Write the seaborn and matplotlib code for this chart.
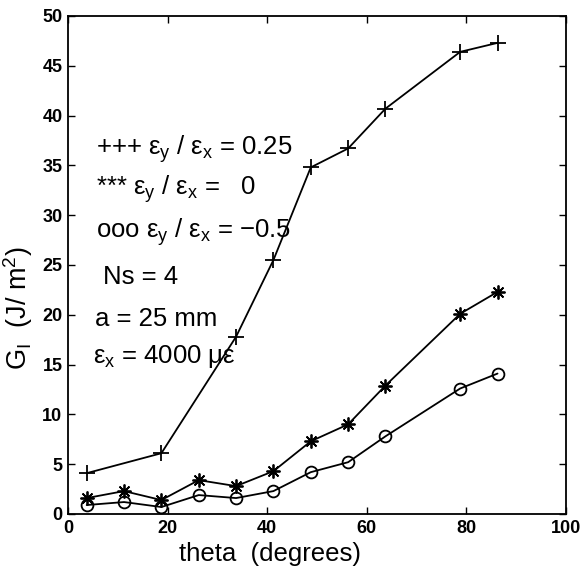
import matplotlib
matplotlib.use("Agg")
import matplotlib.pyplot as plt
import seaborn as sns
import pandas as pd

# theta (degrees) and G_I (J/m^2) for the three strain ratios
theta_plus = [3.75, 18.75, 33.75, 41.25, 48.75, 56.25, 63.75, 78.75, 86.25]
g_plus = [4.1, 6.1, 17.8, 25.5, 34.8, 36.7, 40.7, 46.4, 47.3]

theta_all = [3.75, 11.25, 18.75, 26.25, 33.75, 41.25, 48.75, 56.25, 63.75, 78.75, 86.25]
g_star = [1.6, 2.3, 1.4, 3.4, 2.8, 4.3, 7.3, 9.0, 12.9, 20.1, 22.3]
g_circ = [0.9, 1.2, 0.7, 1.9, 1.6, 2.3, 4.2, 5.2, 7.8, 12.6, 14.1]

sns.set_style("ticks")
plt.rcParams['font.family'] = ['Liberation Sans', 'DejaVu Sans']
plt.rcParams['mathtext.fontset'] = 'custom'
plt.rcParams['mathtext.rm'] = 'Liberation Sans'
plt.rcParams['mathtext.it'] = 'Liberation Sans'
for k in ['text.color', 'axes.labelcolor', 'xtick.color', 'ytick.color', 'axes.edgecolor']:
    plt.rcParams[k] = 'black'

fig = plt.figure(figsize=(5.81, 5.67), dpi=100)
ax = fig.add_axes([68 / 581, 1 - 514 / 567, (566 - 68) / 581, (514 - 16) / 567])

plus = pd.DataFrame({'theta': theta_plus, 'G': g_plus})
star = pd.DataFrame({'theta': theta_all, 'G': g_star})
circ = pd.DataFrame({'theta': theta_all, 'G': g_circ})

common = dict(ax=ax, x='theta', y='G', color='black', lw=1.3, mec='black', sort=False)
sns.lineplot(data=plus, marker='+', markersize=12, mew=1.3, **common)
sns.lineplot(data=star, marker=(8, 2, 0), markersize=10, mew=1.3, **common)
sns.lineplot(data=circ, marker='o', markersize=8.5, mew=1.3, fillstyle='none', **common)

ax.set_xlim(0, 100)
ax.set_ylim(0, 50)
ax.set_xticks([0, 20, 40, 60, 80, 100])
ax.set_yticks(range(0, 51, 5))
ax.tick_params(direction='in', top=True, right=True, length=5, width=1,
               labelsize=13, pad=4)
for lab in ax.get_xticklabels() + ax.get_yticklabels():
    lab.set_fontweight('bold')
for s in ax.spines.values():
    s.set_linewidth(1.3)
    s.set_visible(True)

ax.set_xlabel('theta  (degrees)', fontsize=18.5, labelpad=0)
ax.xaxis.set_label_coords(0.406, -0.056, transform=ax.transAxes)
ax.xaxis.label.set_va('top')
ax.set_ylabel(r'G$_{\mathrm{I}}$  (J/ m$^2$)', fontsize=19.5)
ax.yaxis.set_label_coords(-0.066, 0.414, transform=ax.transAxes)

fs = 18.5
ax.text(5.6, 36.6, r'+++ $\epsilon_y$ / $\epsilon_x$ = 0.25', fontsize=fs, va='center')
ax.text(5.6, 32.6, r'*** $\epsilon_y$ / $\epsilon_x$ =   0', fontsize=fs, va='center')
ax.text(5.6, 28.3, r'ooo $\epsilon_y$ / $\epsilon_x$ = $-$0.5', fontsize=fs, va='center')
ax.text(7.0, 23.8, 'Ns = 4', fontsize=fs, va='center')
ax.text(5.5, 19.6, 'a = 25 mm', fontsize=fs, va='center')
ax.text(5.0, 15.8, r'$\epsilon_x$ = 4000 $\mu\epsilon$', fontsize=fs, va='center')

fig.savefig('out.png', dpi=100)
